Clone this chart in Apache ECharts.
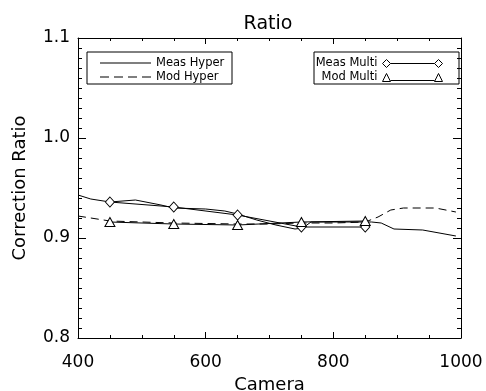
<!DOCTYPE html>
<html>
<head>
<meta charset="utf-8">
<script src="https://cdn.jsdelivr.net/npm/echarts@6/dist/echarts.min.js"></script>
<style>
  html, body { margin: 0; padding: 0; background: #fff; }
  #chart { width: 486px; height: 391px; }
</style>
</head>
<body>
<div id="chart"></div>
<script>
// camera positions and ratios
var measHyperX = [400, 420, 450, 490, 530, 550, 600, 630, 650, 680, 710, 740, 752, 765, 860, 875, 895, 940, 992];
var measHyperY = [0.943, 0.939, 0.936, 0.938, 0.933, 0.930, 0.929, 0.927, 0.924, 0.918, 0.913, 0.909, 0.910, 0.916, 0.916, 0.915, 0.909, 0.908, 0.902];

var modHyperX = [400, 420, 450, 550, 650, 700, 750, 800, 850, 870, 890, 910, 960, 992];
var modHyperY = [0.922, 0.920, 0.917, 0.915, 0.914, 0.914, 0.915, 0.915, 0.916, 0.921, 0.928, 0.930, 0.930, 0.926];

var multiX = [450, 550, 650, 750, 850];
var measMultiY = [0.936, 0.931, 0.923, 0.911, 0.911];
var modMultiY = [0.916, 0.914, 0.913, 0.916, 0.917];

var xTicks = [400, 600, 800, 1000];
var yTicks = [0.8, 0.9, 1.0, 1.1];

function pairs(xs, ys) {
  return xs.map(function (x, i) { return [x, ys[i]]; });
}

var font = "'DejaVu Sans', sans-serif";
var chart = echarts.init(document.getElementById('chart'), null, { renderer: 'canvas' });

var solidIcon = 'path://M0,0 L51,0 L51,1 L0,1 Z';
var dashIcon = 'path://M0,0 L9,0 L9,1 L0,1 Z M14,0 L23,0 L23,1 L14,1 Z M28,0 L37,0 L37,1 L28,1 Z M42,0 L51,0 L51,1 L42,1 Z';
var diamondIcon = 'path://M0,5 L4,1 L8,5 L4,9 Z M8,5 L52,5 M52,5 L56,1 L60,5 L56,9 Z';
var triangleIcon = 'path://M0,9 L4,1 L8,9 Z M8,8 L52,8 M52,9 L56,1 L60,9 Z';

var legendText = { fontFamily: font, fontSize: 11.5, color: '#000' };
function hyperLegend(name, icon, top) {
  return {
    left: 100, top: top, padding: 0, itemWidth: 51, itemHeight: 1, itemGap: 10,
    textStyle: legendText, itemStyle: { color: '#000', borderWidth: 0 },
    data: [{ name: name, icon: icon }]
  };
}
function multiLegend(name, icon, top) {
  return {
    right: 41, top: top, padding: 0, align: 'right', itemWidth: 60, itemHeight: 9, itemGap: 6,
    textStyle: legendText, itemStyle: { color: 'none', borderColor: '#000', borderWidth: 1 },
    data: [{ name: name, icon: icon }]
  };
}

chart.setOption({
  animation: false,
  backgroundColor: '#fff',
  title: {
    text: 'Ratio',
    left: 263,
    top: 10,
    textAlign: 'center',
    textStyle: { fontFamily: font, fontWeight: 'normal', fontSize: 19, color: '#000' }
  },
  grid: { left: 78, right: 25, top: 38, bottom: 53, outerBoundsMode: 'none' },
  graphic: [
    { type: 'rect', shape: { x: 87, y: 52, width: 145, height: 32 }, style: { fill: 'none', stroke: '#000', lineWidth: 1 } },
    { type: 'rect', shape: { x: 314, y: 52, width: 145, height: 32 }, style: { fill: 'none', stroke: '#000', lineWidth: 1 } }
  ],
  legend: [
    hyperLegend('Meas Hyper', solidIcon, 57),
    hyperLegend('Mod Hyper', dashIcon, 71),
    multiLegend('Meas Multi', diamondIcon, 57),
    multiLegend('Mod Multi', triangleIcon, 71)
  ],
  xAxis: [
    {
      type: 'value', min: 400, max: 1000, interval: 200,
      name: 'Camera', nameLocation: 'middle', nameGap: 35,
      nameTextStyle: { fontFamily: font, fontSize: 18, color: '#000' },
      axisLine: { lineStyle: { color: '#000', width: 1 } },
      axisTick: { inside: true, length: 6, lineStyle: { color: '#000' } },
      minorTick: { show: true, splitNumber: 4, length: 3, lineStyle: { color: '#000' } },
      axisLabel: { fontFamily: font, fontSize: 17, color: '#000', margin: 16,
        formatter: function (v) { return xTicks.indexOf(v) >= 0 ? String(v) : ''; } },
      splitLine: { show: false }
    },
    {
      type: 'value', position: 'top', min: 400, max: 1000, interval: 200,
      axisLine: { lineStyle: { color: '#000', width: 1 } },
      axisTick: { inside: true, length: 6, lineStyle: { color: '#000' } },
      minorTick: { show: true, splitNumber: 4, length: 3, lineStyle: { color: '#000' } },
      axisLabel: { show: false }, splitLine: { show: false }
    }
  ],
  yAxis: [
    {
      type: 'value', min: 0.8, max: 1.1, interval: 0.1,
      name: 'Correction Ratio', nameLocation: 'middle', nameGap: 49,
      nameTextStyle: { fontFamily: font, fontSize: 18, color: '#000' },
      axisLine: { show: true, lineStyle: { color: '#000', width: 1 } },
      axisTick: { show: true, inside: true, length: 8, lineStyle: { color: '#000' } },
      minorTick: { show: true, splitNumber: 10, length: 4, lineStyle: { color: '#000' } },
      axisLabel: { fontFamily: font, fontSize: 17, color: '#000', margin: 8,
        formatter: function (v) {
          var t = yTicks.filter(function (y) { return Math.abs(y - v) < 1e-6; });
          return t.length ? v.toFixed(1) : '';
        } },
      splitLine: { show: false }
    },
    {
      type: 'value', position: 'right', min: 0.8, max: 1.1, interval: 0.1,
      axisLine: { show: true, lineStyle: { color: '#000', width: 1 } },
      axisTick: { show: true, inside: true, length: 8, lineStyle: { color: '#000' } },
      minorTick: { show: true, splitNumber: 10, length: 4, lineStyle: { color: '#000' } },
      axisLabel: { show: false }, splitLine: { show: false }
    }
  ],
  series: [
    {
      name: 'Meas Hyper', type: 'line', symbol: 'none', data: pairs(measHyperX, measHyperY),
      lineStyle: { color: '#000', width: 1 }, itemStyle: { color: '#000' }
    },
    {
      name: 'Mod Hyper', type: 'line', symbol: 'none', data: pairs(modHyperX, modHyperY),
      lineStyle: { color: '#000', width: 1, type: [8, 5] }, itemStyle: { color: '#000' }
    },
    {
      name: 'Meas Multi', type: 'line', symbol: 'diamond', symbolSize: [9, 10], showAllSymbol: true,
      data: pairs(multiX, measMultiY),
      lineStyle: { color: '#000', width: 1 },
      itemStyle: { color: '#fff', borderColor: '#000', borderWidth: 1 }
    },
    {
      name: 'Mod Multi', type: 'line', symbol: 'triangle', symbolSize: [10, 9], showAllSymbol: true,
      data: pairs(multiX, modMultiY),
      lineStyle: { color: '#000', width: 1 },
      itemStyle: { color: '#fff', borderColor: '#000', borderWidth: 1 }
    }
  ]
});
</script>
</body>
</html>
